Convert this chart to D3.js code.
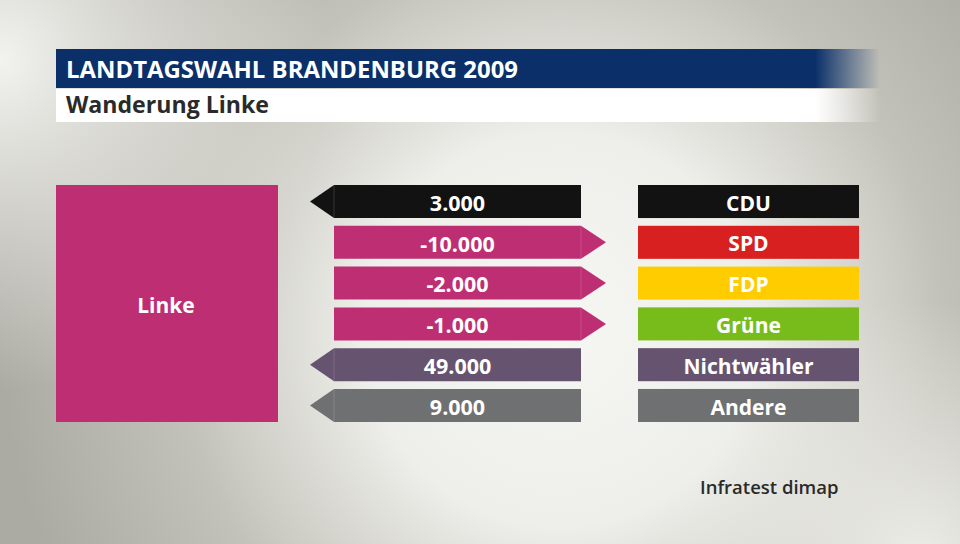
<!DOCTYPE html>
<html><head><meta charset="utf-8">
<script src="https://cdn.jsdelivr.net/npm/d3@7"></script>
<style>html,body{margin:0;padding:0;overflow:hidden;background:#dcdcd6}</style>
</head><body>
<svg id="c" width="960" height="544"></svg>
<script>
const title = "LANDTAGSWAHL BRANDENBURG 2009";
const subtitle = "Wanderung Linke";
const source = "Infratest dimap";
const mainParty = "Linke";
const mainColor = "#bd2f72";
const categories = ["CDU", "SPD", "FDP", "Grüne", "Nichtwähler", "Andere"];
const values = [3000, -10000, -2000, -1000, 49000, 9000];
const valueLabels = ["3.000", "-10.000", "-2.000", "-1.000", "49.000", "9.000"];
const partyColors = ["#121212", "#d7201f", "#ffcc00", "#78bc1b", "#66536f", "#6f7072"];

const svg = d3.select("#c");
const FONT = "'Open Sans', 'Noto Sans', sans-serif";
const defs = svg.append("defs");

// background
const bg = defs.append("radialGradient").attr("id","bg").attr("gradientUnits","userSpaceOnUse")
  .attr("cx",560).attr("cy",330).attr("r",560);
[[0,"#f6f6f2"],[0.35,"#eeeeea"],[0.68,"#c3c2ba"],[1,"#abaaa3"]].forEach(s=>bg.append("stop").attr("offset",s[0]).attr("stop-color",s[1]));
svg.append("rect").attr("width",960).attr("height",544).attr("fill","url(#bg)");
const tl = defs.append("radialGradient").attr("id","tl").attr("gradientUnits","userSpaceOnUse")
  .attr("cx",0).attr("cy",60).attr("r",330);
[[0,"#f2f2ee",1],[1,"#f2f2ee",0]].forEach(s=>tl.append("stop").attr("offset",s[0]).attr("stop-color",s[1]).attr("stop-opacity",s[2]));
svg.append("rect").attr("width",960).attr("height",544).attr("fill","url(#tl)");
const br = defs.append("radialGradient").attr("id","br").attr("gradientUnits","userSpaceOnUse")
  .attr("cx",920).attr("cy",560).attr("r",260);
[[0,"#f2f2ee",0.9],[1,"#f2f2ee",0]].forEach(s=>br.append("stop").attr("offset",s[0]).attr("stop-color",s[1]).attr("stop-opacity",s[2]));
svg.append("rect").attr("width",960).attr("height",544).attr("fill","url(#br)");

// title bars
const gT = defs.append("linearGradient").attr("id","gt").attr("gradientUnits","userSpaceOnUse")
  .attr("x1",815).attr("x2",880).attr("y1",0).attr("y2",0);
[[0,"#0a2f69",1],[1,"#0a2f69",0]].forEach(s=>gT.append("stop").attr("offset",s[0]).attr("stop-color",s[1]).attr("stop-opacity",s[2]));
const gS = defs.append("linearGradient").attr("id","gs").attr("gradientUnits","userSpaceOnUse")
  .attr("x1",815).attr("x2",880).attr("y1",0).attr("y2",0);
[[0,"#ffffff",1],[1,"#ffffff",0]].forEach(s=>gS.append("stop").attr("offset",s[0]).attr("stop-color",s[1]).attr("stop-opacity",s[2]));
svg.append("rect").attr("x",56).attr("y",49).attr("width",824).attr("height",39).attr("fill","url(#gt)");
svg.append("rect").attr("x",56).attr("y",89).attr("width",824).attr("height",33).attr("fill","url(#gs)");

function fitText(sel, w){ const n=sel.node(); const l=n.getComputedTextLength(); if(l>0) sel.attr("textLength",w).attr("lengthAdjust","spacingAndGlyphs"); }

const t1 = svg.append("text").attr("x",66).attr("y",78).attr("fill","#fff").attr("font-family",FONT)
  .attr("font-weight",700).attr("font-size",23).text(title);
fitText(t1, 452);
const t2 = svg.append("text").attr("x",66).attr("y",113).attr("fill","#2a2a2a").attr("font-family",FONT)
  .attr("font-weight",700).attr("font-size",23).text(subtitle);
fitText(t2, 203);

// rows
const y = d3.scaleBand().domain(categories).range([185,422]).paddingInner(0.19).paddingOuter(0);
const h = y.bandwidth();

// main box
svg.append("rect").attr("x",56).attr("y",185).attr("width",222).attr("height",237).attr("fill",mainColor);
svg.append("text").attr("x",166).attr("y",305).attr("dy","0.36em").attr("text-anchor","middle")
  .attr("fill","#fff").attr("font-family",FONT).attr("font-weight",700).attr("font-size",21).text(mainParty);

const xL = 334, xR = 581, tipL = 310, tipR = 606;
const data = categories.map((c,i)=>({c, v:values[i], label:valueLabels[i], color:partyColors[i]}));

const rows = svg.append("g").selectAll("g").data(data).join("g");
rows.append("path").attr("d", d=>{
  const y0 = y(d.c), y1 = y0+h, ym = y0+h/2;
  return d.v>=0
    ? `M${tipL},${ym}L${xL},${y0}L${xR},${y0}L${xR},${y1}L${xL},${y1}Z`
    : `M${xL},${y0}L${xR},${y0}L${tipR},${ym}L${xR},${y1}L${xL},${y1}Z`;
}).attr("fill", d=> d.v>=0 ? d.color : mainColor);
rows.append("line").attr("x1",d=>d.v>=0?xL:xR).attr("x2",d=>d.v>=0?xL:xR)
  .attr("y1",d=>y(d.c)).attr("y2",d=>y(d.c)+h).attr("stroke","#fff").attr("stroke-opacity",0.15);
rows.append("text").attr("x",(xL+xR)/2).attr("y",d=>y(d.c)+h/2+1.5).attr("dy","0.36em").attr("text-anchor","middle")
  .attr("fill","#fff").attr("font-family",FONT).attr("font-weight",700).attr("font-size",21.5).text(d=>d.label);

rows.append("rect").attr("x",638).attr("y",d=>y(d.c)).attr("width",221).attr("height",h).attr("fill",d=>d.color);
rows.append("text").attr("x",748.5).attr("y",d=>y(d.c)+h/2+1.5).attr("dy","0.36em").attr("text-anchor","middle")
  .attr("fill","#fff").attr("font-family",FONT).attr("font-weight",700).attr("font-size",21).text(d=>d.c);

svg.append("text").attr("x",700).attr("y",494).attr("fill","#2a2a2a").attr("font-family",FONT)
  .attr("font-weight",600).attr("font-size",18.5).text(source);
</script>
</body></html>
